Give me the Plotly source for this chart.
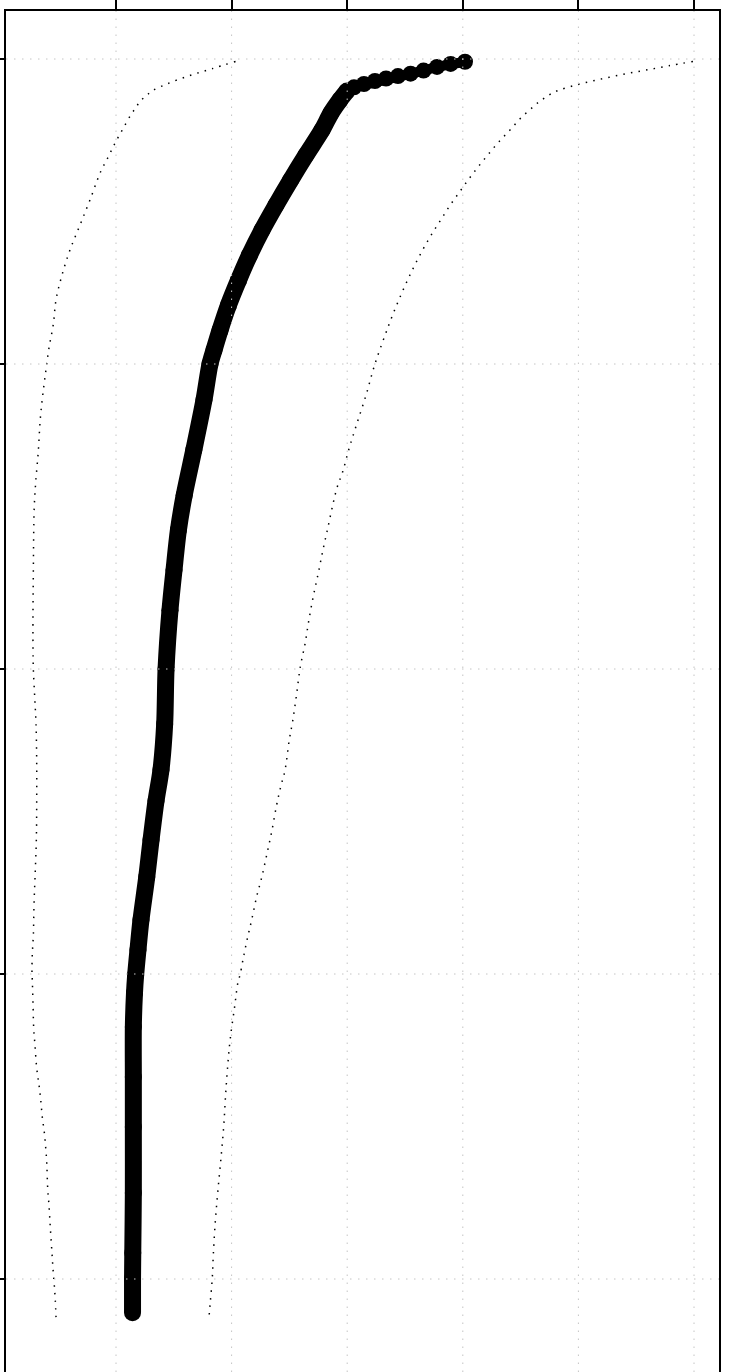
import plotly.graph_objects as go

# ---- data ----
mean_x = [4.019, 3.895, 3.777, 3.660, 3.548, 3.439, 3.336, 3.240, 3.145, 3.059,
          2.998, 2.938, 2.860, 2.782, 2.644, 2.511, 2.384, 2.263, 2.155, 2.060,
          1.973, 1.900, 1.848, 1.813, 1.761, 1.673, 1.590, 1.540, 1.502,
          1.467, 1.433, 1.421, 1.389, 1.346, 1.303, 1.266, 1.216, 1.190, 1.170,
          1.160, 1.150, 1.150, 1.150, 1.150, 1.145, 1.143, 1.143]
mean_y = [3.991, 3.984, 3.974, 3.962, 3.952, 3.944, 3.936, 3.928, 3.918, 3.907,
          3.895, 3.866, 3.823, 3.767, 3.685, 3.603, 3.521, 3.439, 3.357, 3.275,
          3.193, 3.111, 3.046, 3.000, 2.882, 2.718, 2.570, 2.456, 2.325,
          2.193, 2.000, 1.820, 1.669, 1.567, 1.439, 1.318, 1.177, 1.079, 0.997,
          0.938, 0.826, 0.662, 0.498, 0.282, 0.085, 0.000, -0.111]

low_x = [2.034, 1.830, 1.631, 1.439, 1.311, 1.260, 1.208, 1.169, 1.130, 1.061,
         0.994, 0.933, 0.870, 0.775, 0.689, 0.602, 0.533, 0.481, 0.458, 0.420,
         0.392, 0.366, 0.345, 0.328, 0.305, 0.293, 0.288, 0.285, 0.282, 0.282,
         0.285, 0.297, 0.308, 0.314, 0.314, 0.311, 0.302, 0.291, 0.285, 0.276,
         0.273, 0.276, 0.282, 0.288, 0.299, 0.314, 0.334, 0.349, 0.362, 0.380,
         0.392, 0.401, 0.409, 0.420, 0.432, 0.446, 0.455, 0.466, 0.475, 0.481]
low_y = [3.992, 3.968, 3.945, 3.918, 3.895, 3.879, 3.861, 3.839, 3.818, 3.772,
         3.726, 3.679, 3.633, 3.538, 3.456, 3.374, 3.292, 3.210, 3.131, 3.052,
         2.975, 2.897, 2.820, 2.715, 2.610, 2.534, 2.446, 2.321, 2.193, 2.069,
         2.000, 1.906, 1.820, 1.693, 1.567, 1.443, 1.341, 1.230, 1.128, 1.066,
         1.010, 0.980, 0.905, 0.823, 0.767, 0.692, 0.636, 0.587, 0.532, 0.480,
         0.430, 0.380, 0.298, 0.243, 0.167, 0.086, 0.034, -0.019, -0.071, -0.125]

high_x = [5.991, 5.784, 5.576, 5.377, 5.170, 4.971, 4.832, 4.772, 4.711, 4.657,
          4.605, 4.503, 4.408, 4.313, 4.224, 4.134, 4.051, 3.970, 3.889, 3.814,
          3.740, 3.670, 3.604, 3.543, 3.485, 3.431, 3.379, 3.330, 3.240, 3.163,
          3.080, 3.018, 2.961, 2.914, 2.880, 2.837, 2.793, 2.750, 2.707, 2.667,
          2.635, 2.594, 2.563, 2.529, 2.499, 2.462, 2.427, 2.390, 2.347, 2.304,
          2.260, 2.217, 2.174, 2.136, 2.101, 2.073, 2.055, 2.027, 1.989, 1.969,
          1.949, 1.932, 1.908, 1.882, 1.859, 1.842, 1.833, 1.816, 1.804]
high_y = [3.992, 3.978, 3.963, 3.949, 3.932, 3.914, 3.898, 3.888, 3.873, 3.859,
          3.842, 3.807, 3.767, 3.729, 3.689, 3.647, 3.606, 3.563, 3.520, 3.475,
          3.431, 3.386, 3.339, 3.292, 3.244, 3.196, 3.147, 3.097, 3.000, 2.898,
          2.800, 2.725, 2.647, 2.597, 2.546, 2.471, 2.395, 2.315, 2.239, 2.157,
          2.082, 2.007, 1.919, 1.831, 1.768, 1.668, 1.617, 1.555, 1.467, 1.391,
          1.316, 1.254, 1.178, 1.116, 1.052, 0.997, 0.973, 0.895, 0.790, 0.712,
          0.609, 0.502, 0.396, 0.292, 0.188, 0.082, 0.004, -0.074, -0.127]

x_ticks = [1, 2, 3, 4, 5, 6]
y_ticks = [0, 1, 2, 3, 4]

X_RANGE = [0.0484, 6.2163]
Y_RANGE = [-0.3049, 4.1574]

SPLIT = 10  # sparse-marker head of the thick series

fig = go.Figure()

for xs, ys in [(low_x, low_y), (high_x, high_y)]:
    fig.add_trace(go.Scatter(
        x=xs, y=ys, mode="lines", line_shape="spline",
        line=dict(color="black", width=1.5, dash="1.5px,6.2px"),
        hoverinfo="skip", showlegend=False))

# dense part of the thick series
fig.add_trace(go.Scatter(
    x=mean_x[SPLIT:], y=mean_y[SPLIT:], mode="lines+markers", line_shape="spline",
    line=dict(color="black", width=17, smoothing=0.8),
    marker=dict(color="black", size=17, line=dict(width=0)),
    showlegend=False))
# sparse head: separate circles
fig.add_trace(go.Scatter(
    x=mean_x[:SPLIT + 1], y=mean_y[:SPLIT + 1], mode="lines+markers",
    line=dict(color="black", width=10),
    marker=dict(color="black", size=16, line=dict(width=0)),
    showlegend=False))

# dotted grid drawn above the traces
shapes = []
for v in x_ticks:
    shapes.append(dict(type="line", xref="x", yref="paper", x0=v, x1=v, y0=0, y1=1,
                       layer="above", line=dict(color="#c4c4c4", width=1, dash="1.5px,6.5px")))
for v in y_ticks:
    shapes.append(dict(type="line", xref="paper", yref="y", x0=0, x1=1, y0=v, y1=v,
                       layer="above", line=dict(color="#c4c4c4", width=1, dash="1.5px,6.5px")))

fig.update_layout(
    width=729, height=1372,
    margin=dict(l=6, r=10, t=11, b=0, pad=0, autoexpand=False),
    paper_bgcolor="white", plot_bgcolor="white",
    shapes=shapes,
    xaxis=dict(range=X_RANGE, side="top", tickvals=x_ticks, showticklabels=False,
               ticks="outside", ticklen=12, tickwidth=2, tickcolor="black",
               showline=True, linecolor="black", linewidth=2, mirror=False,
               showgrid=False, zeroline=False, automargin=False),
    yaxis=dict(range=Y_RANGE, tickvals=y_ticks, showticklabels=False,
               ticks="outside", ticklen=12, tickwidth=2, tickcolor="black",
               showline=True, linecolor="black", linewidth=2, mirror=True,
               showgrid=False, zeroline=False, automargin=False),
)

fig.write_html("out.html", config={"displayModeBar": False},
               post_script="document.body.style.margin='0';")
